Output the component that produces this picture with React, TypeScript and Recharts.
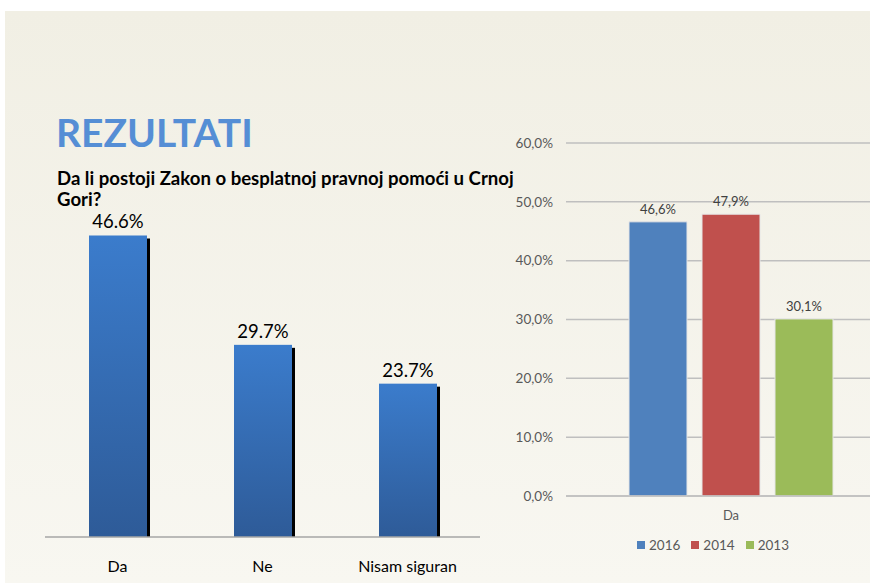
import React from 'react';
import {
    BarChart,
    Bar,
    XAxis,
    YAxis,
    CartesianGrid,
    LabelList,
} from 'recharts';

// lijevi grafikon: odgovori 2016
const answers = ['Da', 'Ne', 'Nisam siguran'];
const answerShares = [46.6, 29.7, 23.7];

// desni grafikon: "Da" po godinama
const yearCategories = ['Da'];
const share2016 = [46.6];
const share2014 = [47.9];
const share2013 = [30.1];
const yearTicks = [0, 10, 20, 30, 40, 50, 60];

const years = [
    { key: 'y2016', name: '2016', color: '#4F81BD' },
    { key: 'y2014', name: '2014', color: '#C0504D' },
    { key: 'y2013', name: '2013', color: '#9BBB59' },
];

const questionLines = ['Da li postoji Zakon o besplatnoj pravnoj pomoći u Crnoj', 'Gori?'];

const leftData = answers.map((a, i) => ({ answer: a, share: answerShares[i] }));
const rightData = yearCategories.map((c, i) => ({
    cat: c,
    y2016: share2016[i],
    y2014: share2014[i],
    y2013: share2013[i],
}));

const FONT = 'Lato, "Open Sans", sans-serif';

const ShadowBar = (props: any) => {
    const { x, y, width, height } = props;
    if (!height || height <= 0) return null;
    return (
        <g>
            <rect x={x + 3} y={y + 3} width={width} height={height - 3} fill="#000" />
            <rect x={x} y={y} width={width} height={height} fill="url(#blueGrad)" />
        </g>
    );
};

const comma = (v: number) => v.toFixed(1).replace('.', ',') + '%';

export default function App() {
    return (
        <div style={{ position: 'absolute', left: 0, top: 0, width: 870, height: 583, background: '#fff', overflow: 'hidden' }}>
            <div
                style={{
                    position: 'absolute',
                    left: 5,
                    top: 11,
                    width: 865,
                    height: 572,
                    background: 'linear-gradient(#F1EFE4, #F8F7F1)',
                }}
            />
            <div
                style={{
                    position: 'absolute',
                    left: 56,
                    top: 108,
                    fontFamily: FONT,
                    fontWeight: 700,
                    fontSize: 39,
                    color: '#558ED5',
                    lineHeight: '48px',
                }}
            >
                REZULTATI
            </div>
            {questionLines.map((line, i) => (
                <div
                    key={i}
                    style={{
                        position: 'absolute',
                        left: 57,
                        top: 170 + i * 21,
                        fontFamily: FONT,
                        fontWeight: 700,
                        fontSize: 18.6,
                        color: '#000',
                        lineHeight: '16px',
                        whiteSpace: 'nowrap',
                    }}
                >
                    {line}
                </div>
            ))}

            <div style={{ position: 'absolute', left: 0, top: 0 }}>
                <BarChart width={480} height={583} data={leftData} margin={{ top: 213.5, right: 0, bottom: 16, left: 45 }}>
                    <defs>
                        <linearGradient id="blueGrad" x1="0" y1="0" x2="0" y2="1">
                            <stop offset="0%" stopColor="#3B7CCC" />
                            <stop offset="100%" stopColor="#2E5B98" />
                        </linearGradient>
                    </defs>
                    <XAxis
                        dataKey="answer"
                        height={30}
                        tickLine={false}
                        axisLine={{ stroke: '#A6A6A6', strokeWidth: 1.5 }}
                        tick={{ fill: '#000', fontSize: 16, fontFamily: FONT }}
                        tickMargin={18}
                    />
                    <YAxis hide domain={[0, 50]} width={0} />
                    <Bar dataKey="share" barSize={58} shape={ShadowBar} isAnimationActive={false}>
                        <LabelList
                            dataKey="share"
                            position="top"
                            offset={7}
                            formatter={(v: any) => `${Number(v).toFixed(1)}%`}
                            style={{ fill: '#000', fontSize: 18.5, fontFamily: FONT }}
                        />
                    </Bar>
                </BarChart>
            </div>

            <div style={{ position: 'absolute', left: 500, top: 0 }}>
                <BarChart
                    width={396}
                    height={583}
                    data={rightData}
                    margin={{ top: 143, right: 0, bottom: 25, left: 0 }}
                    barGap={15}
                    barCategoryGap={62}
                >
                    <CartesianGrid vertical={false} stroke="#BFBFBF" strokeWidth={1.5} />
                    <XAxis
                        dataKey="cat"
                        height={62}
                        tickLine={false}
                        axisLine={{ stroke: '#BFBFBF', strokeWidth: 1.5 }}
                        tick={{ fill: '#595959', fontSize: 13, fontFamily: FONT }}
                        tickMargin={9}
                    />
                    <YAxis
                        domain={[0, 60]}
                        ticks={yearTicks}
                        width={66}
                        axisLine={false}
                        tickLine={false}
                        tickMargin={7}
                        tickFormatter={(v: number) => comma(v)}
                        tick={{ fill: '#595959', fontSize: 13.5, fontFamily: FONT }}
                    />
                    {years.map((y) => (
                        <Bar
                            key={y.key}
                            dataKey={y.key}
                            name={y.name}
                            fill={y.color}
                            stroke="#E6E6E6"
                            strokeWidth={1}
                            barSize={58}
                            isAnimationActive={false}
                        >
                            <LabelList
                                dataKey={y.key}
                                position="top"
                                offset={8}
                                formatter={(v: any) => comma(Number(v))}
                                style={{ fill: '#404040', fontSize: 13, fontFamily: FONT }}
                            />
                        </Bar>
                    ))}
                </BarChart>
            </div>

            <div
                style={{
                    position: 'absolute',
                    left: 637,
                    top: 536,
                    display: 'flex',
                    gap: 11,
                    fontFamily: FONT,
                    fontSize: 13.5,
                    color: '#595959',
                    lineHeight: '18px',
                }}
            >
                {years.map((y) => (
                    <span key={y.key} style={{ display: 'flex', alignItems: 'center' }}>
                        <span style={{ width: 8, height: 8, background: y.color, display: 'inline-block', marginRight: 4 }} />
                        {y.name}
                    </span>
                ))}
            </div>
        </div>
    );
}
